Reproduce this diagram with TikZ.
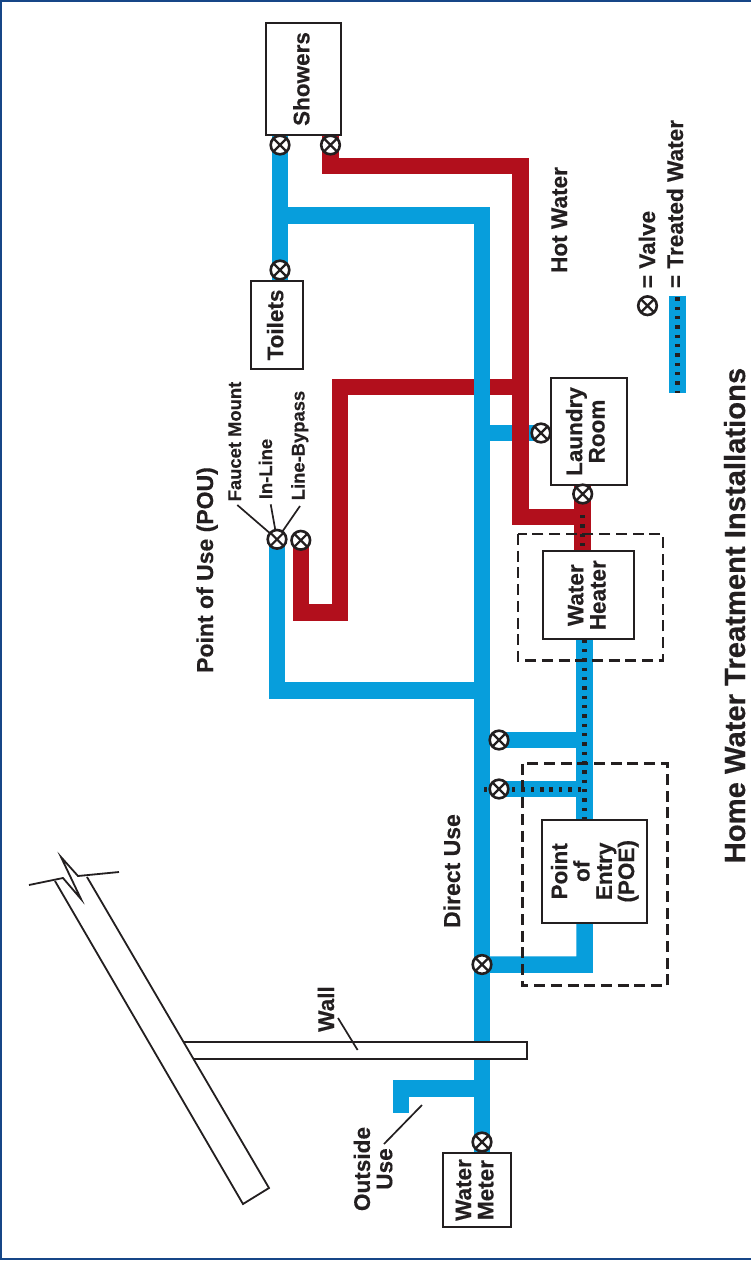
\documentclass[tikz,border=0pt]{standalone}
\usepackage{fontspec}
\setmainfont{Liberation Sans}[BoldFeatures={FakeBold=0.35}]
\definecolor{pipeblue}{RGB}{7,158,220}
\definecolor{pipered}{RGB}{178,15,28}
\definecolor{ink}{RGB}{35,31,32}
\definecolor{framecol}{RGB}{22,70,135}
\pgfdeclarelayer{pipes}
\pgfsetlayers{pipes,main}
\tikzset{
  bluepipe/.style={draw=pipeblue,line width=16.5pt,line cap=butt,line join=miter},
  redpipe/.style={draw=pipered,line width=16.5pt,line cap=butt,line join=miter},
  dotline/.style={draw=ink,line width=5pt,dash pattern=on 3.4pt off 5.95pt},
  dashbox/.style={draw=ink,line width=2.6pt,dash pattern=on 11pt off 5.7pt},
  leader/.style={draw=ink,line width=1.7pt},
  wallline/.style={draw=ink,line width=1.8pt,line join=miter},
  boxnode/.style={draw=ink,fill=white,line width=2pt,rotate=90,inner sep=0pt,outer sep=0pt,align=center,text=ink,font=\fontsize{22.5}{22.3}\selectfont\bfseries},
  labelnode/.style={rotate=90,inner sep=0pt,outer sep=0pt,anchor=base,text=ink,font=\fontsize{22.6}{22.3}\selectfont\bfseries},
  smalllabel/.style={labelnode,font=\fontsize{18.4}{18.4}\selectfont\bfseries},
  valve/.style={circle,draw=ink,fill=white,line width=2.6pt,minimum size=18.6pt,inner sep=0pt,outer sep=0pt,
    path picture={\draw[ink,line width=2.2pt]
      (path picture bounding box.north west)--(path picture bounding box.south east)
      (path picture bounding box.north east)--(path picture bounding box.south west);}}
}
\begin{document}
\begin{tikzpicture}[x=1pt,y=-1pt]
\useasboundingbox (0,0) rectangle (751,1262);
\begin{pgfonlayer}{pipes}
\fill[white] (0,0) rectangle (751,1262);
\draw[framecol,line width=2pt] (751,1) -- (1,1) -- (1,1259) -- (751,1259);
\end{pgfonlayer}

% equipment boxes
\node[boxnode,text depth=5pt,minimum width=112pt,minimum height=75.5pt] (showers) at (303.7,79) {Showers};
\node[boxnode,text depth=4pt,minimum width=88pt,minimum height=52pt] (toilets) at (277,325) {Toilets};
\node[boxnode,text depth=8pt,minimum width=107pt,minimum height=76.5pt] (laundry) at (589.2,431.5) {Laundry\\Room};
\node[boxnode,text depth=4pt,minimum width=88.5pt,minimum height=90.5pt] (heater) at (588.7,595.2) {Water\\Heater};
\node[boxnode,minimum width=102.7pt,minimum height=105pt] (poe) at (594.8,871.3) {Point\\of\\Entry\\(POE)};
\node[boxnode,text depth=5pt,line width=2.4pt,minimum width=74pt,minimum height=68.5pt] (meter) at (477,1190) {Water\\Meter};

% valves
\node[valve] (valveSC) at (280,145) {};
\node[valve] (valveSH) at (330.5,145) {};
\node[valve] (valveT) at (280,270) {};
\node[valve] (valveIL) at (277,539.3) {};
\node[valve] (valveLB) at (300.8,540.3) {};
\node[valve] (valveLC) at (541,433) {};
\node[valve] (valveLH) at (582.7,494) {};
\node[valve] (valveD1) at (499,740) {};
\node[valve] (valveD2) at (499,789) {};
\node[valve] (valvePOE) at (482,964.5) {};
\node[valve] (valveM) at (482,1142) {};

% pipe junctions
\coordinate (jTop) at (482,215.7);
\coordinate (jBranch) at (280,215.7);
\coordinate (jLaundry) at (482,433);
\coordinate (jHotA) at (330.5,166);
\coordinate (jHotB) at (520.7,166);
\coordinate (jHotC) at (520.7,517);
\coordinate (jHotD) at (582.7,517);
\coordinate (jHotBr) at (520.7,387);
\coordinate (jRedA) at (340.2,387);
\coordinate (jRedB) at (340.2,612.5);
\coordinate (jRedC) at (300.8,612.5);
\coordinate (jPouA) at (277,690.5);
\coordinate (jPouB) at (473.5,690.5);
\coordinate (jD1) at (584.5,740);
\coordinate (jD2) at (584.5,789);
\coordinate (jPoeA) at (584.5,964.7);
\coordinate (jOutA) at (401,1088.5);
\coordinate (jOutB) at (401,1113);
\coordinate (jOutC) at (482,1088.5);
\coordinate (jDotRed) at (582.7,515);
\coordinate (jDotBranch) at (484,789);

\begin{pgfonlayer}{pipes}
% pipes, lower layers first
\draw[bluepipe] (jLaundry) -- (valveLC.center);
\draw[redpipe] (valveSH |- showers.west) -- (jHotA) -- (jHotB) -- (jHotC) -- (jHotD);
\draw[redpipe] (valveLH |- laundry.west) -- (valveLH |- heater.east);
\draw[redpipe] (jHotBr) -- (jRedA) -- (jRedB) -- (jRedC) -- (valveLB.center);
\draw[bluepipe] (valveSC |- showers.west) -- (valveT |- toilets.east);
\draw[bluepipe] (jBranch) -- (jTop) -- (jTop |- meter.east);
\draw[bluepipe] (valveIL.center) -- (jPouA) -- (jPouB);
\draw[bluepipe] (jD1 |- heater.west) -- (jD1 |- poe.east);
\draw[bluepipe] (valveD1.center) -- (jD1);
\draw[bluepipe] (valveD2.center) -- (jD2);
\draw[bluepipe] (valvePOE.center) -- (jPoeA) -- (jPoeA |- poe.west);
\draw[bluepipe] (jOutC) -- (jOutA) -- (jOutB);
% treated-water dots
\draw[dotline] (jDotRed) -- (jDotRed |- heater.east);
\draw[dotline] (jD1 |- heater.west) -- (jD1 |- poe.east);
\draw[dotline] (jDotBranch) -- (jD2);
% dashed enclosures
\draw[dashbox] (518,534) rectangle (663,660.5);
\draw[dashbox] (522.3,763.7) rectangle (667.3,985.7);
\end{pgfonlayer}

% building wall
\fill[white] (184,1042) -- (527,1042) -- (527,1059) -- (193.5,1059) -- cycle;
\draw[wallline,line width=2.1pt] (184,1042) -- (527,1042) -- (527,1059) -- (193.5,1059);
\draw[wallline] (55,881) -- (243,1204) -- (269,1188) -- (87,877);
\draw[wallline] (29,885) -- (63,878) -- (81,899) -- (61,857) -- (78,876) -- (119,872);

% labels
\node[labelnode,font=\fontsize{23}{23}\selectfont\bfseries] (lPou) at (213,570) {Point of Use (POU)};
\node[smalllabel] (lFaucet) at (241,441.5) {Faucet Mount};
\node[smalllabel] (lInline) at (272,469) {In-Line};
\node[smalllabel] (lBypass) at (304.5,445.5) {Line-Bypass};
\node[labelnode] (lHot) at (567,220) {Hot Water};
\node[labelnode,font=\fontsize{23}{23}\selectfont\bfseries] (lDirect) at (460,871) {Direct Use};
\node[labelnode] (lWall) at (334,1009) {Wall};
\node[labelnode,anchor=center,align=center] (lOutside) at (373,1169) {Outside\\Use};
\node[labelnode] (lValve) at (655,249.5) {= Valve};
\node[labelnode] (lTreated) at (683,204) {= Treated Water};
\node[labelnode,font=\fontsize{29.2}{29.2}\selectfont\bfseries] (lTitle) at (745,615.5) {Home Water Treatment Installations};

% leaders
\coordinate (lfA) at (237.3,505);
\coordinate (liA) at (270.7,504.3);
\coordinate (lbA) at (300,506);
\coordinate (lwA) at (338,1018);
\coordinate (lwB) at (357.6,1050);
\coordinate (loA) at (384,1144);
\coordinate (loB) at (422,1105);
\draw[leader] (lfA) -- (valveIL);
\draw[leader] (liA) -- (valveIL);
\draw[leader] (lbA) -- (valveIL);
\draw[leader] (lwA) -- (lwB);
\draw[leader] (loA) -- (loB);

% legend
\node[valve] (legendValve) at (647.5,305.7) {};
\coordinate (legA) at (677.5,295.7);
\coordinate (legB) at (677.5,393);
\coordinate (legDot) at (677.5,297.2);
\begin{pgfonlayer}{pipes}
\draw[bluepipe] (legA) -- (legB);
\draw[dotline] (legDot) -- (legB);
\end{pgfonlayer}
\end{tikzpicture}
\end{document}
